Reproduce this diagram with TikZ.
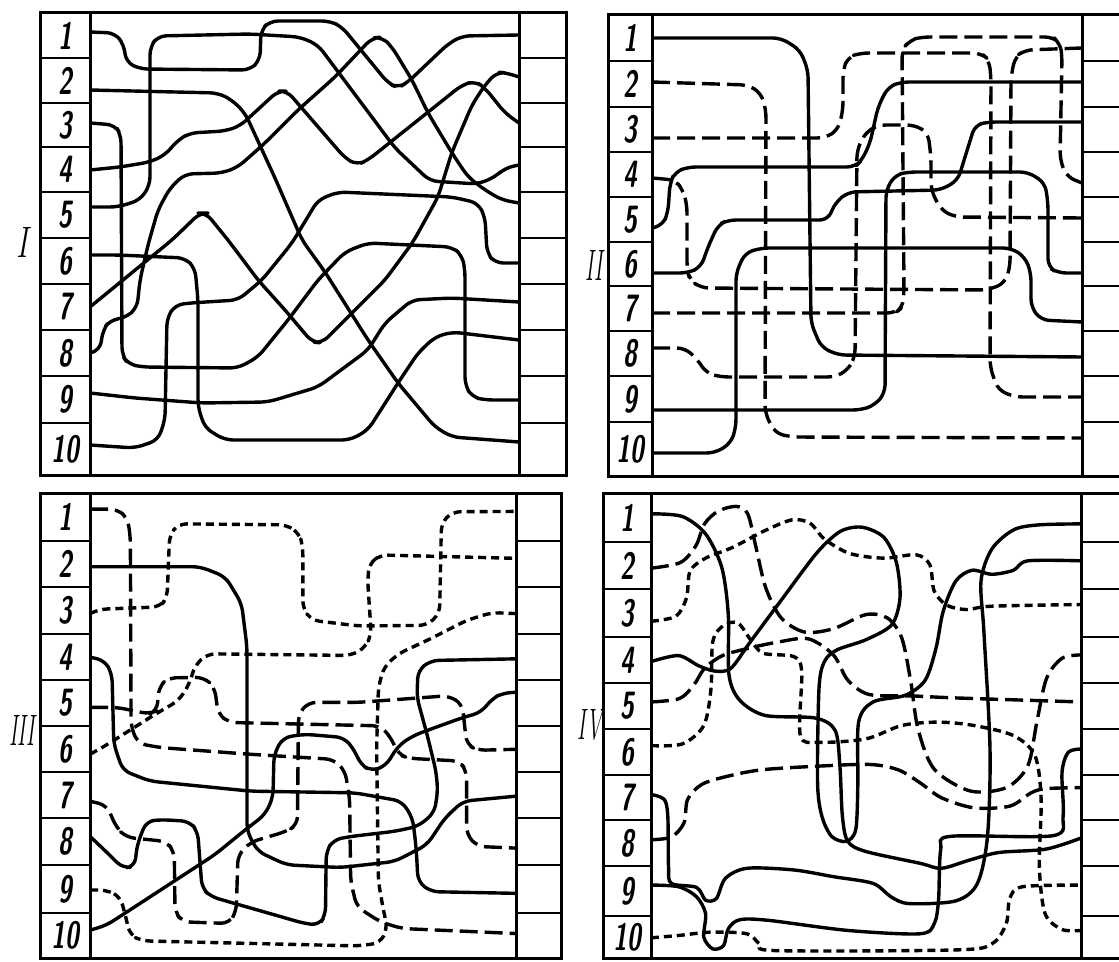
\documentclass[tikz,border=0pt]{standalone}
\begin{document}
\begin{tikzpicture}[x=0.5pt,y=-0.5pt,
  frame/.style={line width=1.5pt},
  divline/.style={line width=1.2pt},
  wire/.style={line width=1.7pt, line join=round, rounded corners=4pt},
  swire/.style={line width=1.7pt, line join=round},
  longdash/.style={dash pattern=on 9pt off 3.5pt},
  shortdash/.style={dash pattern=on 4pt off 2.5pt},
  num/.style={font=\fontsize{19}{19}\selectfont\sffamily\bfseries\slshape, xscale=0.66, inner sep=0pt},
  roman/.style={font=\fontsize{22}{22}\selectfont\itshape, inner sep=0pt}]
\useasboundingbox (0,0) rectangle (1119,962);
\fill[white] (0,0) rectangle (1119,962);

% ---------------- frames ----------------
% Panel I
\draw[frame] (40,13) rectangle (566,476);
\draw[frame] (90,13) -- (90,476) (519,13) -- (519,476);
\foreach \y in {58,103,147,192,238,284,330,376,423} {
  \draw[divline] (40,\y) -- (90,\y) (519,\y) -- (566,\y);}
\foreach \t/\b [count=\i] in {13/58,58/103,103/147,147/192,192/238,238/284,284/330,330/376,376/423,423/476}
  \node[num] (Ia\i) at (65,{(\t+\b)/2}) {\i};
% Panel II
\draw[frame] (1119,15) -- (608,15) -- (608,477) -- (1119,477);
\draw[frame] (652,15) -- (652,477) (1082,15) -- (1082,477);
\foreach \y in {61,107,152,197,242,286,331,376,422} {
  \draw[divline] (608,\y) -- (652,\y) (1082,\y) -- (1119,\y);}
\foreach \t/\b [count=\i] in {15/61,61/107,107/152,152/197,197/242,242/286,286/331,331/376,376/422,422/477}
  \node[num] (IIa\i) at (630,{(\t+\b)/2}) {\i};
% Panel III
\draw[frame] (40,493) rectangle (561,958);
\draw[frame] (90,493) -- (90,958) (516,493) -- (516,958);
\foreach \y in {541,587,634,680,726,772,818,865,913} {
  \draw[divline] (40,\y) -- (90,\y) (516,\y) -- (561,\y);}
\foreach \t/\b [count=\i] in {493/541,541/587,587/634,634/680,680/726,726/772,772/818,818/865,865/913,913/958}
  \node[num] (IIIa\i) at (65,{(\t+\b)/2}) {\i};
% Panel IV
\draw[frame] (1119,493) -- (603,493) -- (603,958) -- (1119,958);
\draw[frame] (651,493) -- (651,958) (1081,493) -- (1081,958);
\foreach \y in {542,589,637,683,729,775,820,866,916} {
  \draw[divline] (603,\y) -- (651,\y) (1081,\y) -- (1119,\y);}
\foreach \t/\b [count=\i] in {493/542,542/589,589/637,637/683,683/729,729/775,775/820,820/866,866/916,916/958}
  \node[num] (IVa\i) at (627,{(\t+\b)/2}) {\i};

% roman numerals
\node[roman, xscale=0.7] (rI) at (22,242) {I};
\node[roman, xscale=0.5] (rII) at (594,265) {II};
\node[roman, xscale=0.5] (rIII) at (22,730) {III};
\node[roman, xscale=0.5] (rIV) at (590,725) {IV};

% ---------------- Panel I wires ----------------
\draw[wire] (90,32)--(115,33)--(124,45)--(126,62)--(140,69)--(250,70)--(260,60)--(261,30)--(270,21)--(330,21)--(342,27)--(388,83)--(398,88)--(408,82)--(448,44)--(462,36)--(519,35);
\draw[wire] (90,90)--(218,93)--(232,100)--(245,113)--(275,178)--(302,240)--(325,272)--(368,340)--(398,383)--(435,427)--(452,437)--(519,442);
\draw[wire] (90,123)--(115,125)--(121,135)--(122,355)--(128,364)--(142,367)--(238,368)--(258,357)--(288,320)--(318,280)--(345,252)--(368,243)--(452,247)--(462,255)--(465,270)--(465,385)--(472,397)--(485,400)--(519,400);
\draw[wire] (90,170)--(120,167)--(150,162)--(165,155)--(178,140)--(190,133)--(225,131)--(240,126)--(278,91)--(287,91)--(345,158)--(357,165)--(368,160)--(462,85)--(475,81)--(485,88)--(505,113)--(519,123);
\draw[wire] (90,207)--(118,207)--(140,200)--(150,185)--(150,47)--(158,36)--(250,34)--(300,37)--(318,45)--(395,148)--(430,181)--(478,184)--(495,177)--(505,168)--(519,165);
\draw[wire] (90,255)--(118,255)--(185,258)--(195,268)--(198,300)--(198,407)--(205,428)--(225,440)--(350,440)--(368,430)--(398,383)--(418,353)--(435,337)--(452,332)--(519,340);
\draw[wire] (90,307)--(145,262)--(172,240)--(200,213)--(206,213)--(228,240)--(258,280)--(285,310)--(312,342)--(322,343)--(352,313)--(385,280)--(413,242)--(438,197)--(452,152)--(472,105)--(485,85)--(497,72)--(507,73)--(519,77);
\draw[wire] (90,353)--(100,350)--(103,330)--(110,320)--(125,318)--(137,308)--(140,280)--(148,245)--(158,210)--(170,188)--(185,174)--(222,173)--(238,167)--(265,143)--(298,110)--(335,77)--(372,38)--(382,37)--(392,47)--(412,80)--(428,113)--(452,153)--(468,177)--(485,190)--(502,200)--(519,203);
\draw[wire] (90,393)--(135,398)--(202,403)--(268,402)--(318,387)--(368,350)--(385,323)--(412,300)--(452,298)--(519,302);
\draw[wire] (90,445)--(135,448)--(158,440)--(165,420)--(167,318)--(175,305)--(190,303)--(238,300)--(262,280)--(292,243)--(318,200)--(338,192)--(452,197)--(478,203)--(485,217)--(487,253)--(495,263)--(519,263);

% ---------------- Panel II wires ----------------
\draw[wire] (652,38)--(781,38)--(800,50)--(808,70)--(810,240)--(811,323)--(821,347)--(838,355)--(1082,357);
\draw[wire,longdash] (652,82)--(748,85)--(761,93)--(766,110)--(765,413)--(775,433)--(791,437)--(1082,438);
\draw[wire,longdash] (652,138)--(825,138)--(838,130)--(843,110)--(843,70)--(848,57)--(861,53)--(981,53)--(989,60)--(991,77)--(990,367)--(998,390)--(1015,397)--(1082,397);
\draw[wire,longdash] (652,178)--(675,180)--(683,190)--(687,205)--(687,270)--(690,280)--(701,288)--(988,290)--(1005,283)--(1010,267)--(1011,77)--(1015,57)--(1025,50)--(1082,48);
\draw[wire] (652,228)--(663,225)--(668,212)--(670,183)--(675,172)--(688,167)--(855,167)--(862,160)--(870,143)--(878,107)--(888,87)--(901,82)--(1082,82);
\draw[wire] (652,273)--(688,273)--(701,267)--(708,247)--(718,225)--(728,220)--(828,220)--(835,203)--(848,192)--(941,190)--(958,180)--(965,157)--(975,125)--(988,122)--(1082,122);
\draw[wire,longdash] (652,313)--(895,313)--(903,307)--(904,290)--(902,50)--(910,40)--(922,37)--(1053,37)--(1060,43)--(1062,55)--(1060,160)--(1067,177)--(1082,183);
\draw[wire,longdash] (652,348)--(685,348)--(698,360)--(706,373)--(721,377)--(835,377)--(848,370)--(855,357)--(857,150)--(865,133)--(878,125)--(915,125)--(928,133)--(931,157)--(931,190)--(941,210)--(955,217)--(1082,218);
\draw[wire] (652,410)--(861,410)--(875,405)--(885,393)--(886,190)--(895,175)--(908,172)--(1028,172)--(1045,183)--(1048,203)--(1048,267)--(1058,273)--(1082,273);
\draw[wire] (652,453)--(715,453)--(731,443)--(736,427)--(736,273)--(745,253)--(761,248)--(1011,248)--(1025,257)--(1031,273)--(1031,307)--(1041,320)--(1082,322);

% ---------------- Panel III wires ----------------
\begin{scope}[shift={(-1.4,479.6)}, xscale=0.36, yscale=0.335]
\draw[wire,longdash] (254,88)--(330,88)--(358,115)--(366,170)--(368,740)--(388,788)--(450,800)--(700,820)--(930,835)--(962,868)--(975,950)--(978,1200)--(995,1275)--(1060,1320)--(1120,1340)--(1437,1355);
\draw[wire,shortdash] (254,400)--(280,387)--(448,380)--(468,352)--(475,165)--(500,132)--(800,135)--(835,160)--(845,200)--(845,385)--(870,420)--(1000,437)--(1190,435)--(1225,400)--(1230,130)--(1260,96)--(1437,95);
\draw[wire,shortdash] (254,820)--(300,792)--(440,697)--(500,660)--(530,610)--(545,555)--(580,520)--(980,525)--(1020,500)--(1035,460)--(1025,300)--(1030,250)--(1060,225)--(1437,235);
\draw[wire,shortdash] (254,1225)--(300,1225)--(338,1245)--(352,1300)--(365,1360)--(400,1377)--(1000,1392)--(1060,1383)--(1080,1340)--(1068,1280)--(1055,1200)--(1050,800)--(1055,620)--(1070,560)--(1110,520)--(1200,475)--(1300,420)--(1370,397)--(1437,400);
\draw[wire] (254,260)--(560,260)--(630,290)--(675,370)--(690,500)--(690,1050)--(720,1110)--(800,1150)--(950,1158)--(1100,1140)--(1190,1090)--(1240,1010)--(1290,960)--(1437,945);
\draw[wire] (254,530)--(295,540)--(315,580)--(320,790)--(345,868)--(420,900)--(700,930)--(990,935)--(1120,960)--(1150,1010)--(1160,1100)--(1165,1200)--(1200,1230)--(1437,1235);
\draw[wire] (254,1345)--(300,1330)--(400,1260)--(500,1190)--(600,1120)--(680,1050)--(740,1000)--(762,950)--(765,820)--(790,770)--(850,760)--(960,770)--(990,810)--(1005,850)--(1035,870)--(1075,855)--(1110,795)--(1150,765)--(1200,745)--(1290,710)--(1340,695)--(1370,655)--(1400,637)--(1437,635);
\draw[wire] (254,1065)--(300,1112)--(345,1160)--(378,1155)--(385,1090)--(410,1020)--(450,1015)--(530,1020)--(553,1050)--(565,1220)--(590,1245)--(850,1325)--(890,1330)--(908,1300)--(910,1110)--(930,1075)--(980,1065)--(1100,1050)--(1165,1035)--(1210,995)--(1220,930)--(1215,870)--(1190,760)--(1162,650)--(1165,570)--(1200,540)--(1437,535);
\draw[wire,longdash] (254,960)--(300,972)--(328,1040)--(355,1068)--(465,1080)--(488,1110)--(490,1290)--(510,1320)--(640,1325)--(660,1290)--(665,1120)--(700,1082)--(800,1050)--(830,1030)--(833,700)--(860,665)--(1000,665)--(1250,645)--(1288,670)--(1300,790)--(1330,808)--(1437,805);
\draw[wire,longdash] (254,680)--(330,680)--(420,700)--(440,690)--(445,620)--(470,592)--(570,590)--(600,620)--(610,700)--(640,725)--(1060,735)--(1090,770)--(1110,820)--(1140,832)--(1280,840)--(1300,870)--(1300,1060)--(1330,1095)--(1437,1100);
\end{scope}

% ---------------- Panel IV wires ----------------
\begin{scope}[shift={(559.8,480.2)}, xscale=0.36, yscale=0.336]
% solid
\draw[swire] plot[smooth, tension=0.5] coordinates {(253,100)(340,108)(405,160)(450,260)(468,400)(470,580)(500,655)(570,700)(710,708)(765,745)(778,850)(785,1000)(800,1075)(850,1105)(1000,1140)(1060,1155)(1140,1130)(1220,1108)(1350,1098)(1448,1065)};
\draw[swire] plot[smooth, tension=0.5] coordinates {(253,540)(330,522)(385,552)(430,568)(475,560)(530,480)(620,350)(715,215)(780,152)(840,140)(900,170)(935,245)(945,350)(922,430)(850,475)(770,505)(735,540)(720,620)(716,900)(728,1000)(755,1060)(795,1075)(822,1040)(828,900)(830,720)(870,660)(960,640)(1015,595)(1045,500)(1065,390)(1100,300)(1145,268)(1200,280)(1260,268)(1300,240)(1448,240)};
\draw[swire] plot[smooth, tension=0.5] coordinates {(253,935)(290,950)(300,1000)(302,1150)(310,1200)(380,1212)(405,1250)(435,1245)(460,1185)(520,1155)(650,1160)(760,1180)(870,1200)(920,1240)(970,1260)(1100,1252)(1160,1200)(1188,1060)(1195,800)(1178,450)(1170,300)(1200,205)(1260,148)(1330,133)(1448,130)};
\draw[swire] plot[smooth, tension=0.5] coordinates {(253,1205)(330,1210)(380,1240)(405,1290)(400,1360)(425,1395)(455,1385)(468,1335)(500,1308)(580,1310)(800,1340)(1000,1350)(1040,1320)(1052,1250)(1058,1100)(1085,1060)(1370,1058)(1398,1000)(1395,870)(1412,810)(1448,800)};
% dashed
\draw[swire,longdash] plot[smooth, tension=0.5] coordinates {(253,262)(335,245)(378,195)(402,130)(440,92)(490,78)(522,100)(545,200)(572,320)(615,410)(680,452)(760,442)(850,400)(910,410)(950,470)(975,600)(995,740)(1040,860)(1140,925)(1240,915)(1300,850)(1325,720)(1352,590)(1395,530)(1448,520)};
\draw[swire,shortdash] plot[smooth, tension=0.5] coordinates {(253,420)(322,405)(352,350)(362,270)(405,232)(480,200)(570,150)(645,118)(695,128)(735,175)(805,218)(900,232)(990,222)(1028,252)(1040,330)(1075,372)(1130,385)(1200,375)(1448,370)};
\draw[swire,longdash] plot[smooth, tension=0.5] coordinates {(253,660)(332,650)(372,610)(402,560)(452,522)(525,500)(605,482)(690,472)(760,520)(800,595)(860,638)(980,642)(1100,648)(1448,660)};
\draw[swire,shortdash] plot[smooth, tension=0.5] coordinates {(253,790)(340,785)(400,730)(420,620)(425,480)(455,432)(495,425)(530,475)(565,515)(650,525)(672,570)(668,760)(720,780)(850,770)(950,730)(1050,720)(1150,730)(1260,760)(1320,820)(1337,950)(1332,1150)(1348,1290)(1395,1337)(1448,1340)};
\draw[swire,shortdash] plot[smooth, tension=0.5] coordinates {(253,1362)(330,1355)(420,1345)(520,1350)(555,1380)(600,1400)(1100,1398)(1200,1380)(1240,1320)(1250,1245)(1285,1210)(1448,1205)};
\draw[swire,longdash] plot[smooth, tension=0.5] coordinates {(253,1070)(310,1062)(345,1020)(355,950)(395,905)(470,880)(560,862)(700,852)(860,846)(940,862)(1000,900)(1060,945)(1150,975)(1250,970)(1310,930)(1350,918)(1448,915)};
\end{scope}
\end{tikzpicture}
\end{document}
